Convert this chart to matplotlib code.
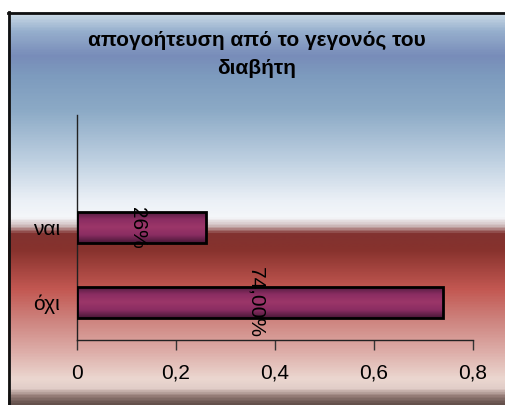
import numpy as np
import matplotlib
matplotlib.use("Agg")
import matplotlib.pyplot as plt
from matplotlib.colors import LinearSegmentedColormap
from matplotlib.ticker import FuncFormatter

plt.rcParams['font.family'] = ['Liberation Sans', 'DejaVu Sans']

title = "απογοήτευση από το γεγονός του\nδιαβήτη"
categories = ["όχι", "ναι"]
values = [0.74, 0.26]
value_labels = ["74,00%", "26%"]
xticks = [0, 0.2, 0.4, 0.6, 0.8]

W, H = 506, 405
fig = plt.figure(figsize=(W / 100, H / 100), dpi=100)
fig.patch.set_facecolor("white")

# background panel with vertical colour gradient (pixel row -> rgb)
stops = [
    (12, (205, 220, 232)), (30, (150, 175, 205)), (55, (120, 140, 185)),
    (75, (125, 155, 190)), (110, (140, 170, 198)), (160, (190, 208, 225)),
    (200, (235, 240, 246)), (218, (245, 247, 250)), (226, (205, 185, 185)),
    (234, (130, 50, 48)), (250, (135, 50, 45)), (290, (195, 88, 82)),
    (320, (205, 130, 125)), (350, (220, 170, 165)), (380, (235, 215, 208)),
    (390, (225, 205, 200)), (397, (150, 125, 120)), (405, (100, 80, 75)),
]
y0, y1 = stops[0][0], stops[-1][0]
bg_cmap = LinearSegmentedColormap.from_list(
    "bg", [((p - y0) / (y1 - y0), np.array(c) / 255) for p, c in stops])
bg = fig.add_axes([8 / W, 0, 1 - 8 / W, 1 - 12 / H])
bg.imshow(np.linspace(0, 1, 400).reshape(-1, 1), aspect="auto", cmap=bg_cmap,
          extent=[0, 1, 0, 1], origin="upper")
bg.set_xlim(0, 1)
bg.set_ylim(0, 1)
bg.axis("off")
# frame: only left and top edges fall inside the image
fig.add_artist(plt.Line2D([8.5 / W, 8.5 / W], [0, 1 - 12 / H], color="#111111", lw=2))
fig.add_artist(plt.Line2D([8 / W, 1], [1 - 12.5 / H, 1 - 12.5 / H], color="#111111", lw=2))

fig.text(257 / W, 1 - 54 / H, title, ha="center", va="center",
         fontsize=15, fontweight="bold", linespacing=1.6)

ax = fig.add_axes([77 / W, 1 - 340 / H, 396 / W, 225 / H])
ax.patch.set_alpha(0)

bar_cmap = LinearSegmentedColormap.from_list(
    "bar", ["#4e1a3c", "#8a2d62", "#9c3669", "#8a2d62", "#4a1838"])
pos = np.arange(len(categories))
bars = ax.barh(pos, values, height=0.42, facecolor="none", edgecolor="black",
               linewidth=2, zorder=3)
for rect in bars:
    x, y = rect.get_x(), rect.get_y()
    w, h = rect.get_width(), rect.get_height()
    im = ax.imshow(np.linspace(0, 1, 50).reshape(-1, 1), cmap=bar_cmap,
                   extent=[x, x + w, y, y + h], aspect="auto", zorder=2)
    im.set_clip_path(rect)

for p, v, lbl in zip(pos, values, value_labels):
    ax.annotate(lbl, (v / 2, p), xytext=(-3, 0), textcoords="offset points",
                rotation=270, ha="center", va="center", fontsize=15, zorder=4)

ax.set_xlim(0, 0.8)
ax.set_ylim(-0.5, 2.5)
ax.set_xticks(xticks)
ax.xaxis.set_major_formatter(FuncFormatter(lambda v, _: f"{v:g}".replace(".", ",")))
ax.set_yticks(pos)
ax.set_yticklabels(categories)
ax.tick_params(axis="x", length=7, width=1, direction="out", labelsize=15,
               pad=10, color="#333333")
ax.tick_params(axis="y", length=0, labelsize=15, pad=12)
for s in ("top", "right"):
    ax.spines[s].set_visible(False)
for s in ("left", "bottom"):
    ax.spines[s].set_color("#222222")
    ax.spines[s].set_linewidth(1)

fig.savefig("out.png", dpi=100)
